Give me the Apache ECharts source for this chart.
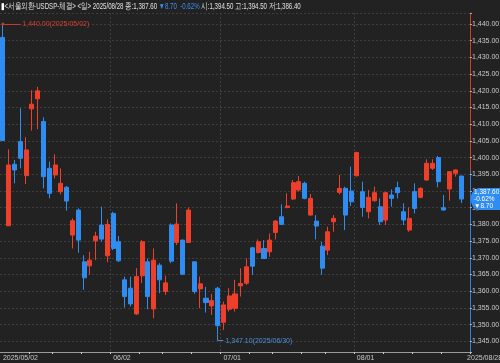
<!DOCTYPE html>
<html>
<head>
<meta charset="utf-8">
<script src="https://cdn.jsdelivr.net/npm/echarts@6/dist/echarts.min.js"></script>
<style>
html,body{margin:0;padding:0;background:#222222;}
#c{width:500px;height:363px;}
</style>
</head>
<body>
<div id="c"></div>
<script>
var dates = [
'2025/05/02','2025/05/07','2025/05/08','2025/05/09','2025/05/12','2025/05/13','2025/05/14','2025/05/15','2025/05/16','2025/05/19',
'2025/05/20','2025/05/21','2025/05/22','2025/05/23','2025/05/26','2025/05/27','2025/05/28','2025/05/29','2025/05/30','2025/06/02',
'2025/06/04','2025/06/05','2025/06/09','2025/06/10','2025/06/11','2025/06/12','2025/06/13','2025/06/16','2025/06/17','2025/06/18',
'2025/06/19','2025/06/20','2025/06/23','2025/06/24','2025/06/25','2025/06/26','2025/06/27','2025/06/30','2025/07/01','2025/07/02',
'2025/07/03','2025/07/04','2025/07/07','2025/07/08','2025/07/09','2025/07/10','2025/07/11','2025/07/14','2025/07/15','2025/07/16',
'2025/07/17','2025/07/18','2025/07/21','2025/07/22','2025/07/23','2025/07/24','2025/07/25','2025/07/28','2025/07/29','2025/07/30',
'2025/07/31','2025/08/01','2025/08/04','2025/08/05','2025/08/06','2025/08/07','2025/08/08','2025/08/11','2025/08/12','2025/08/13',
'2025/08/14','2025/08/18','2025/08/19','2025/08/20','2025/08/21','2025/08/22','2025/08/25','2025/08/26','2025/08/27','2025/08/28'];

var openV = [1436.0,1379.6,1398.0,1404.8,1394.6,1414.6,1417.6,1410.8,1396.8,1394.8,
1389.8,1391.1,1376.8,1384.3,1368.8,1367.6,1375.1,1379.8,1370.6,1383.3,
1374.8,1363.4,1360.9,1353.2,1364.6,1368.8,1354.7,1367.8,1359.9,1379.8,
1374.6,1375.3,1374.6,1368.8,1360.7,1357.9,1355.6,1360.9,1350.7,1354.6,
1354.9,1361.6,1362.4,1373.0,1371.6,1372.8,1371.8,1377.6,1382.3,1385.1,
1387.6,1390.3,1392.3,1382.8,1381.0,1373.5,1372.3,1380.8,1389.6,1390.8,
1390.0,1394.6,1389.8,1383.8,1387.1,1385.3,1381.3,1388.8,1391.0,1383.8,
1378.3,1389.8,1388.1,1393.3,1396.8,1400.0,1385.0,1390.6,1395.3,1394.5];

var closeV = [1405.1,1397.8,1396.3,1399.8,1402.3,1416.0,1420.0,1394.3,1389.3,1397.8,
1392.3,1387.0,1381.1,1375.3,1364.0,1369.3,1376.5,1375.6,1380.0,1372.8,
1369.1,1358.4,1356.2,1364.4,1374.8,1358.4,1369.3,1363.4,1362.5,1369.0,
1380.1,1365.1,1384.3,1359.9,1362.2,1356.6,1357.2,1349.7,1355.9,1358.6,
1359.2,1362.3,1367.3,1367.5,1374.8,1369.8,1375.3,1381.0,1380.0,1385.5,
1392.5,1392.8,1387.8,1387.8,1379.5,1366.9,1377.8,1381.8,1390.8,1382.8,
1386.8,1401.5,1385.1,1388.1,1389.5,1380.8,1389.5,1387.8,1389.5,1381.3,
1381.8,1384.8,1390.8,1398.3,1398.3,1392.8,1384.3,1395.8,1396.3,1387.6];

var lowV = [1405.0,1379.5,1392.3,1396.8,1392.1,1408.1,1408.5,1390.8,1387.8,1393.8,
1389.0,1384.1,1372.8,1371.5,1360.4,1364.9,1369.3,1374.8,1368.7,1372.3,
1368.8,1355.1,1355.4,1352.9,1362.4,1354.6,1351.9,1359.4,1358.9,1368.4,
1373.8,1364.8,1374.5,1359.2,1354.9,1353.6,1352.9,1347.1,1348.4,1353.9,
1353.9,1358.4,1361.9,1364.9,1371.3,1369.6,1370.3,1375.5,1379.8,1384.8,
1387.3,1389.8,1387.5,1382.6,1375.5,1364.9,1370.8,1377.8,1389.0,1378.3,
1385.5,1394.3,1382.3,1381.8,1386.8,1379.8,1379.8,1385.3,1387.8,1379.8,
1377.8,1383.3,1387.8,1393.1,1396.3,1391.1,1384.2,1387.1,1394.3,1386.4];

var highV = [1440.0,1402.5,1399.3,1414.8,1406.1,1420.2,1421.2,1412.1,1398.8,1401.0,
1396.8,1391.5,1381.8,1384.8,1370.8,1371.8,1377.8,1385.3,1381.5,1383.8,
1376.5,1364.4,1364.4,1366.9,1375.3,1369.8,1372.8,1368.4,1364.6,1380.3,
1386.3,1375.5,1385.1,1368.9,1364.4,1361.3,1359.2,1361.3,1356.9,1360.9,
1363.4,1366.9,1369.8,1373.3,1375.5,1375.3,1377.3,1381.3,1386.0,1389.3,
1393.3,1394.5,1392.8,1389.1,1382.8,1374.8,1379.3,1382.8,1394.8,1391.3,
1397.3,1401.8,1392.8,1390.3,1391.3,1387.8,1389.8,1390.5,1392.8,1386.3,
1385.1,1392.3,1391.1,1399.5,1399.5,1400.5,1388.8,1395.8,1396.5,1394.5];

var monthLabelIdx = {0:'2025/05/02', 19:'06/02', 38:'07/01', 61:'08/01'};
var yTickStep = 5;

var RED = '#ee3f2a', BLUE = '#2f8cf0';
var FONT = '"Liberation Sans", Arial, sans-serif';
var FS = 7;

function fmt(v){
  var s = v.toFixed(2), p = s.split('.');
  p[0] = p[0].replace(/\B(?=(\d{3})+(?!\d))/g, ',');
  return p.join('.');
}
function onStep(v){ var q = v / yTickStep; return Math.abs(q - Math.round(q)) < 1e-6; }

var n = dates.length;
var cats = dates.concat(['']);
var ohlc = [];
for (var i = 0; i < n; i++) ohlc.push([openV[i], closeV[i], lowV[i], highV[i]]);

var maxI = 0, minI = 0;
for (var i = 0; i < n; i++) { if (highV[i] > highV[maxI]) maxI = i; if (lowV[i] < lowV[minI]) minI = i; }
var last = closeV[n-1], prev = closeV[n-2];
var chg = last - prev, pct = chg / prev * 100;

var tickIdx = {5:1,9:1,14:1,19:1,24:1,28:1,33:1,38:1,43:1,47:1,52:1,56:1,61:1,66:1,71:1,76:1};

var chart = echarts.init(document.getElementById('c'), null, {renderer:'canvas'});
chart.setOption({
  backgroundColor: '#222222',
  animation: false,
  textStyle: {fontFamily: FONT},
  graphic: [{
    type: 'text', left: 1, top: 2, scaleX: 0.72, z: 100,
    style: {
      text: '{w|▮}{t|<서울외환-USDSP-체결> <일> ' + dates[n-1] + ' 종:' + fmt(last) + ' }{b|▼' + Math.abs(chg).toFixed(2) + '  ' + pct.toFixed(2) + '%}{t| 시:' + fmt(openV[n-1]) + ' 고:' + fmt(highV[n-1]) + ' 저:' + fmt(lowV[n-1]) + '}',
      fontSize: 8.5, fontFamily: FONT, fill: '#e0e0e0',
      rich: {
        w: {fill: '#ffffff', color: '#ffffff', fontSize: 8.5, fontFamily: FONT},
        t: {fill: '#e0e0e0', color: '#e0e0e0', fontSize: 8.5, fontFamily: FONT},
        b: {fill: '#3f8ff0', color: '#3f8ff0', fontSize: 8.5, fontFamily: FONT}
      }
    }
  }],
  grid: {left: 0, right: 30, top: 13, bottom: 11, outerBoundsMode: 'none', containLabel: false},
  xAxis: {
    type: 'category',
    data: cats,
    boundaryGap: true,
    axisLine: {show: true, lineStyle: {color: '#9a9a9a', width: 1}},
    axisTick: {show: true, length: 2, lineStyle: {color: '#cccccc'},
      interval: function(idx){ return !!tickIdx[idx]; }},
    axisLabel: {
      show: true, color: '#c8c8c8', fontSize: FS, fontFamily: FONT, margin: 3, align: 'left',
      interval: function(idx){ return monthLabelIdx[idx] !== undefined || idx === n; },
      formatter: function(v, idx){ return idx === n ? dates[n-1] : (monthLabelIdx[idx] || ''); }
    },
    splitLine: {show: true, lineStyle: {color: '#3e3e3e', type: [2,2], width: 1},
      interval: function(idx){ return idx === 19 || idx === 38 || idx === 61; }}
  },
  yAxis: {
    type: 'value',
    position: 'right',
    scale: true,
    min: 1341.8,
    max: 1443.3,
    splitNumber: 20,
    axisLine: {show: true, lineStyle: {width: 1, color: {
      type: 'linear', x: 0, y: 0, x2: 0, y2: 363, global: true,
      colorStops: [{offset: 0, color: '#d83a2a'}, {offset: 0.47, color: '#d83a2a'},
                   {offset: 0.47, color: '#2f7fe0'}, {offset: 1, color: '#2f7fe0'}]
    }}},
    axisTick: {show: true, length: 2, inside: false, lineStyle: {color: '#aaaaaa'}},
    axisLabel: {color: '#c8c8c8', fontSize: FS, fontFamily: FONT, margin: 2,
      showMinLabel: true, showMaxLabel: true,
      formatter: function(v){ return onStep(v) ? fmt(v) : ''; }},
    splitLine: {show: true, showMinLine: false, showMaxLine: true,
      lineStyle: {color: '#3e3e3e', type: [2,2], width: 1}}
  },
  series: [{
    type: 'candlestick',
    data: ohlc,
    barWidth: '78%',
    itemStyle: {color: RED, color0: BLUE, borderColor: RED, borderColor0: BLUE, borderWidth: 1},
    markLine: {
      silent: true,
      animation: false,
      symbol: ['none', 'none'],
      data: [
        [{coord: [dates[maxI], highV[maxI]], symbol: 'circle', symbolSize: 3,
          lineStyle: {color: '#c8392a', width: 1, type: 'solid'},
          label: {show: true, position: 'end', distance: 2, color: '#d8402f', fontSize: FS, fontFamily: FONT,
            formatter: fmt(highV[maxI]) + '(' + dates[maxI] + ')'}},
         {coord: [dates[maxI + 3], highV[maxI]]}],
        [{coord: [dates[minI], lowV[minI]], lineStyle: {color: '#4f86c8', width: 1, type: 'solid'}, label: {show: false}},
         {coord: [dates[minI], lowV[minI] - 1.9]}],
        [{coord: [dates[minI], lowV[minI] - 1.9], lineStyle: {color: '#4f86c8', width: 1, type: 'solid'},
          label: {show: true, position: 'end', distance: 2, color: '#4f8fd8', fontSize: FS, fontFamily: FONT,
            formatter: fmt(lowV[minI]) + '(' + dates[minI] + ')'}},
         {coord: [dates[minI + 1], lowV[minI] - 1.9]}],
        {yAxis: last, symbol: 'none', lineStyle: {color: 'rgba(0,0,0,0)', width: 0, type: 'solid'},
          label: {show: true, position: 'end', distance: 1, color: '#ffffff', fontSize: 6.5, fontFamily: FONT,
            lineHeight: 7, align: 'left', opacity: 1,
            backgroundColor: '#2f8cf0', borderRadius: [9, 0, 0, 9], padding: [1, 2, 0, 3],
            formatter: fmt(last) + '\n' + pct.toFixed(2) + '%\n▼' + Math.abs(chg).toFixed(2)}}
      ]
    }
  }]
});
</script>
</body>
</html>
